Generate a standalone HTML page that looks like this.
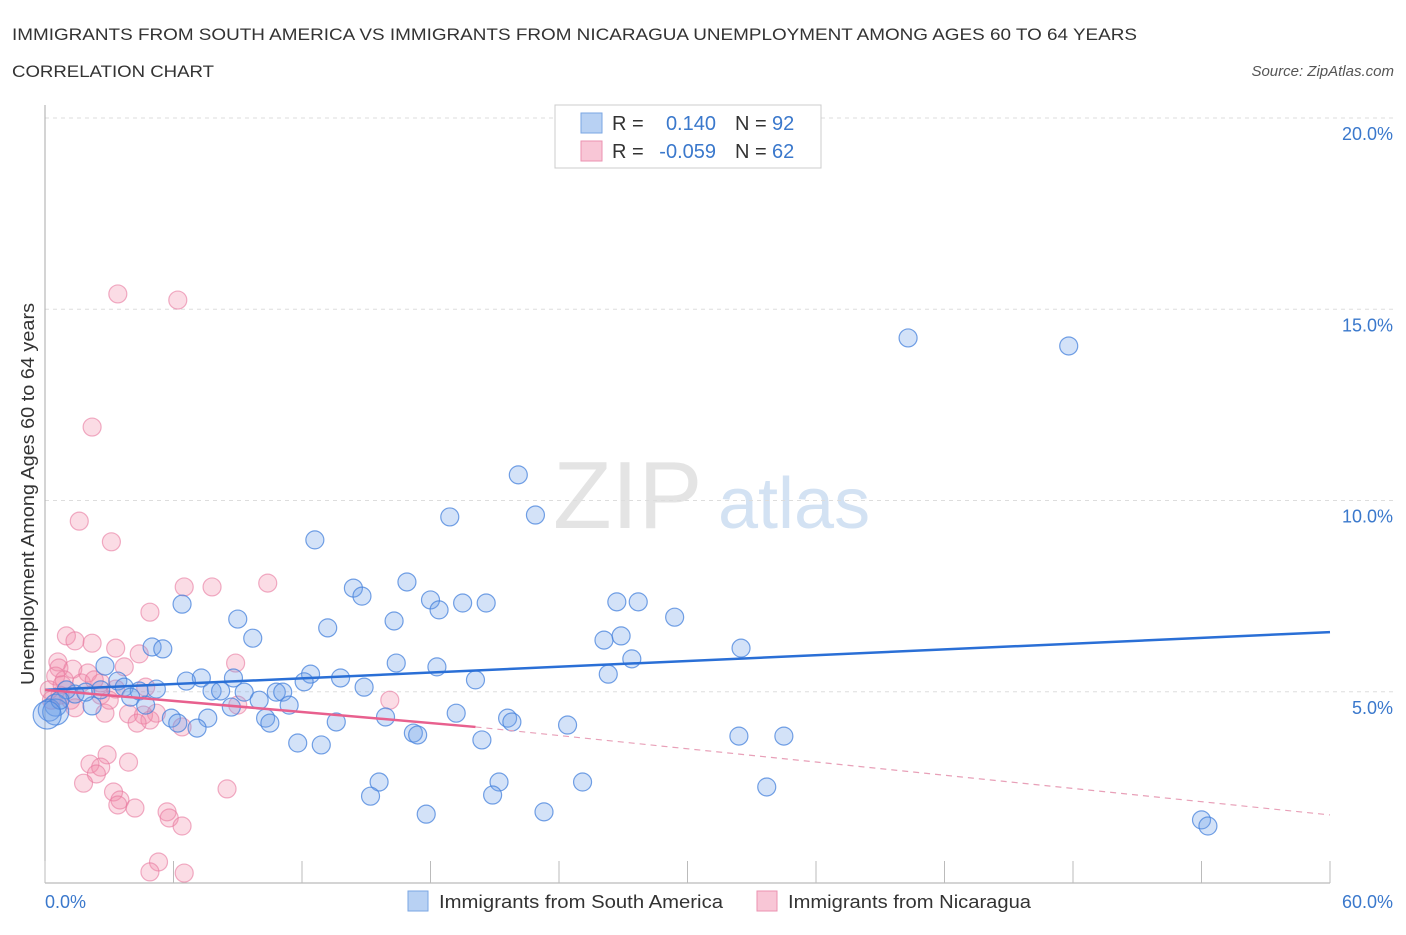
<!DOCTYPE html>
<html><head><meta charset="utf-8">
<style>
body{margin:0;background:#fff;font-family:"Liberation Sans",sans-serif;}
svg text{font-family:"Liberation Sans",sans-serif;}
</style></head>
<body>
<svg id="chart" width="1406" height="930" viewBox="0 0 1406 930" xmlns="http://www.w3.org/2000/svg">
<text x="12" y="40" font-size="17" fill="#333" textLength="1125" lengthAdjust="spacingAndGlyphs">IMMIGRANTS FROM SOUTH AMERICA VS IMMIGRANTS FROM NICARAGUA UNEMPLOYMENT AMONG AGES 60 TO 64 YEARS</text>
<text x="12" y="77" font-size="17" fill="#333" textLength="202" lengthAdjust="spacingAndGlyphs">CORRELATION CHART</text>
<text x="1394" y="76" font-size="15" fill="#555" text-anchor="end" font-style="italic">Source: ZipAtlas.com</text>
<g>
<text x="553" y="528" font-size="96" fill="#e4e4e4" font-family="Liberation Serif,serif">ZIP</text>
<text x="718" y="528" font-size="72" fill="#d3e2f3">atlas</text>
</g>
<g id="grid"></g>
<g id="axes"></g>
<g id="marks"></g>
<text transform="translate(34,494) rotate(-90)" font-size="18" fill="#333" text-anchor="middle" textLength="382" lengthAdjust="spacingAndGlyphs">Unemployment Among Ages 60 to 64 years</text>
<g>
<rect x="555" y="105" width="266" height="63" fill="#fff" stroke="#ccc"/>
<rect x="581" y="113" width="21" height="20" fill="#b8d1f3" stroke="#7aa6e3"/>
<rect x="581" y="141" width="21" height="20" fill="#f8c6d6" stroke="#eb92b0"/>
<text x="612" y="130" font-size="20" fill="#333">R =</text>
<text x="716" y="130" font-size="20" fill="#3a78cc" text-anchor="end">0.140</text>
<text x="735" y="130" font-size="20" fill="#333">N =</text>
<text x="772" y="130" font-size="20" fill="#3a78cc">92</text>
<text x="612" y="158" font-size="20" fill="#333">R =</text>
<text x="716" y="158" font-size="20" fill="#3a78cc" text-anchor="end">-0.059</text>
<text x="735" y="158" font-size="20" fill="#333">N =</text>
<text x="772" y="158" font-size="20" fill="#3a78cc">62</text>
</g>
<g>
<rect x="408" y="891" width="20" height="20" fill="#b8d1f3" stroke="#7aa6e3"/>
<text x="439" y="908" font-size="18" fill="#333" textLength="284" lengthAdjust="spacingAndGlyphs">Immigrants from South America</text>
<rect x="757" y="891" width="20" height="20" fill="#f8c6d6" stroke="#eb92b0"/>
<text x="788" y="908" font-size="18" fill="#333" textLength="243" lengthAdjust="spacingAndGlyphs">Immigrants from Nicaragua</text>
</g>
</svg>
<script>
const yTicks=[5,10,15,20];
const yTickLabels=["5.0%","10.0%","15.0%","20.0%"];
const xTicks=[0,6,12,18,24,30,36,42,48,54,60];
const xEndLabels=["0.0%","60.0%"];
const blueX=[40.3,47.8,22.1,18.9,22.9,12.6,16.9,14.4,14.8,18.0,18.4,19.5,20.6,26.7,27.7,29.4,6.4,9.0,9.7,13.2,16.3,26.1,26.9,32.5,5.0,5.5,27.4,16.4,18.3,26.3,2.8,12.4,13.8,20.1,7.3,6.6,8.8,12.1,14.9,3.4,3.7,4.4,5.2,7.8,8.2,9.3,10.8,11.1,10.0,11.4,8.7,4.0,4.7,2.2,1.4,1.0,0.5,0.2,0.5,5.9,7.6,6.2,7.1,10.3,10.5,13.6,15.9,19.2,21.6,21.8,24.4,17.2,17.4,20.4,11.8,12.9,32.4,34.5,15.6,21.2,25.1,15.2,20.9,33.7,23.3,17.8,54.0,54.3,0.7,1.9,2.6,0.1];
const blueY=[14.25,14.04,10.67,9.57,9.62,8.97,7.87,7.71,7.5,7.4,7.14,7.32,7.32,7.35,7.35,6.95,7.29,6.9,6.4,6.67,6.85,6.35,6.46,6.14,6.17,6.12,5.86,5.75,5.65,5.46,5.67,5.46,5.36,5.31,5.36,5.28,5.36,5.26,5.12,5.28,5.12,5.02,5.07,5.02,5.02,4.99,4.99,4.99,4.78,4.65,4.6,4.86,4.65,4.63,4.94,5.05,4.65,4.52,4.47,4.31,4.31,4.18,4.05,4.31,4.18,4.21,4.34,4.44,4.31,4.21,4.13,3.92,3.87,3.74,3.66,3.61,3.84,3.84,2.64,2.64,2.64,2.27,2.3,2.51,1.86,1.8,1.65,1.49,4.78,4.99,5.05,4.39];
const blueR=[9,9,9,9,9,9,9,9,9,9,9,9,9,9,9,9,9,9,9,9,9,9,9,9,9,9,9,9,9,9,9,9,9,9,9,9,9,9,9,9,9,9,9,9,9,9,9,9,9,9,9,9,9,9,9,9,11,11,13,9,9,9,9,9,9,9,9,9,9,9,9,9,9,9,9,9,9,9,9,9,9,9,9,9,9,9,9,9,9,9,9,14];
const pinkX=[3.4,6.2,2.2,1.6,3.1,6.5,7.8,10.4,4.9,1.0,1.4,2.2,3.3,3.7,0.6,0.65,1.3,4.4,8.9,2.0,0.5,0.9,1.7,2.6,4.7,0.2,0.7,2.6,3.3,16.1,9.0,2.8,3.9,5.2,4.6,4.9,4.3,6.4,2.9,3.9,2.1,2.6,2.4,1.8,8.5,3.2,3.5,3.4,4.2,5.7,5.8,6.4,5.3,4.9,6.5,0.3,1.2,2.3,0.8,3.0,1.4];
const pinkY=[15.4,15.24,11.92,9.46,8.92,7.74,7.74,7.84,7.08,6.46,6.33,6.27,6.14,5.65,5.78,5.62,5.59,5.99,5.75,5.49,5.41,5.31,5.23,5.23,5.12,5.05,4.91,4.91,5.07,4.78,4.65,4.44,4.42,4.44,4.39,4.26,4.18,4.08,3.35,3.16,3.11,3.03,2.85,2.61,2.46,2.38,2.17,2.04,1.96,1.86,1.7,1.49,0.55,0.29,0.26,4.78,4.78,5.31,5.18,4.78,4.58];
const blueTrendX=[0,60];
const blueTrendY=[5.05,6.56];
const pinkTrendX=[0,20.1,60];
const pinkTrendY=[5.05,4.08,1.78];

const NS="http://www.w3.org/2000/svg";
const X0=45,X1=1330,Y0=883,PPY=38.25;
function sx(v){return X0+(v/60)*(X1-X0);}
function sy(v){return Y0-v*PPY;}
function mk(tag,attrs,parent){const e=document.createElementNS(NS,tag);for(const k in attrs)e.setAttribute(k,attrs[k]);parent.appendChild(e);return e;}
const grid=document.getElementById('grid'),axes=document.getElementById('axes'),marks=document.getElementById('marks');
yTicks.forEach((t,i)=>{
  const l=mk('line',{x1:X0,x2:1395,y1:sy(t),y2:sy(t),stroke:'#ddd','stroke-dasharray':'4,4'},grid);
  
  
  const tx=mk('text',{x:1393,y:sy(t)+22,'font-size':18,fill:'#3a78cc','text-anchor':'end'},axes);
  tx.textContent=yTickLabels[i];
  
  
});
const ya=mk('line',{x1:X0,x2:X0,y1:105,y2:Y0,stroke:'#aaa'},axes);


const xa=mk('line',{x1:X0,x2:X1,y1:Y0,y2:Y0,stroke:'#aaa'},axes);


xTicks.forEach(t=>{
  const l=mk('line',{x1:sx(t),x2:sx(t),y1:Y0,y2:Y0-22,stroke:'#bbb'},axes);
  
  
});
[[0,'start',45],[60,'end',1393]].forEach((d,i)=>{
  const tx=mk('text',{x:d[2],y:908,'font-size':18,fill:'#3a78cc','text-anchor':d[1]},axes);
  tx.textContent=xEndLabels[i];
  
  
});
pinkX.forEach((x,i)=>{
  const c=mk('circle',{cx:sx(x),cy:sy(pinkY[i]),r:9,fill:'rgba(242,140,170,0.3)',stroke:'rgba(232,120,158,0.6)','stroke-width':1.2},marks);
  
  
});
blueX.forEach((x,i)=>{
  const c=mk('circle',{cx:sx(x),cy:sy(blueY[i]),r:blueR[i],fill:'rgba(110,160,232,0.3)',stroke:'rgba(70,130,220,0.75)','stroke-width':1.2},marks);
  
  
});
const bt=mk('line',{x1:sx(blueTrendX[0]),y1:sy(blueTrendY[0]),x2:sx(blueTrendX[1]),y2:sy(blueTrendY[1]),stroke:'#2a6fd6','stroke-width':2.5},marks);


const pt=mk('line',{x1:sx(pinkTrendX[0]),y1:sy(pinkTrendY[0]),x2:sx(pinkTrendX[1]),y2:sy(pinkTrendY[1]),stroke:'#e8608e','stroke-width':2.5},marks);


const pd=mk('line',{x1:sx(pinkTrendX[1]),y1:sy(pinkTrendY[1]),x2:sx(pinkTrendX[2]),y2:sy(pinkTrendY[2]),stroke:'#e8a0b8','stroke-width':1.2,'stroke-dasharray':'6,5'},marks);


</script>
</body></html>
